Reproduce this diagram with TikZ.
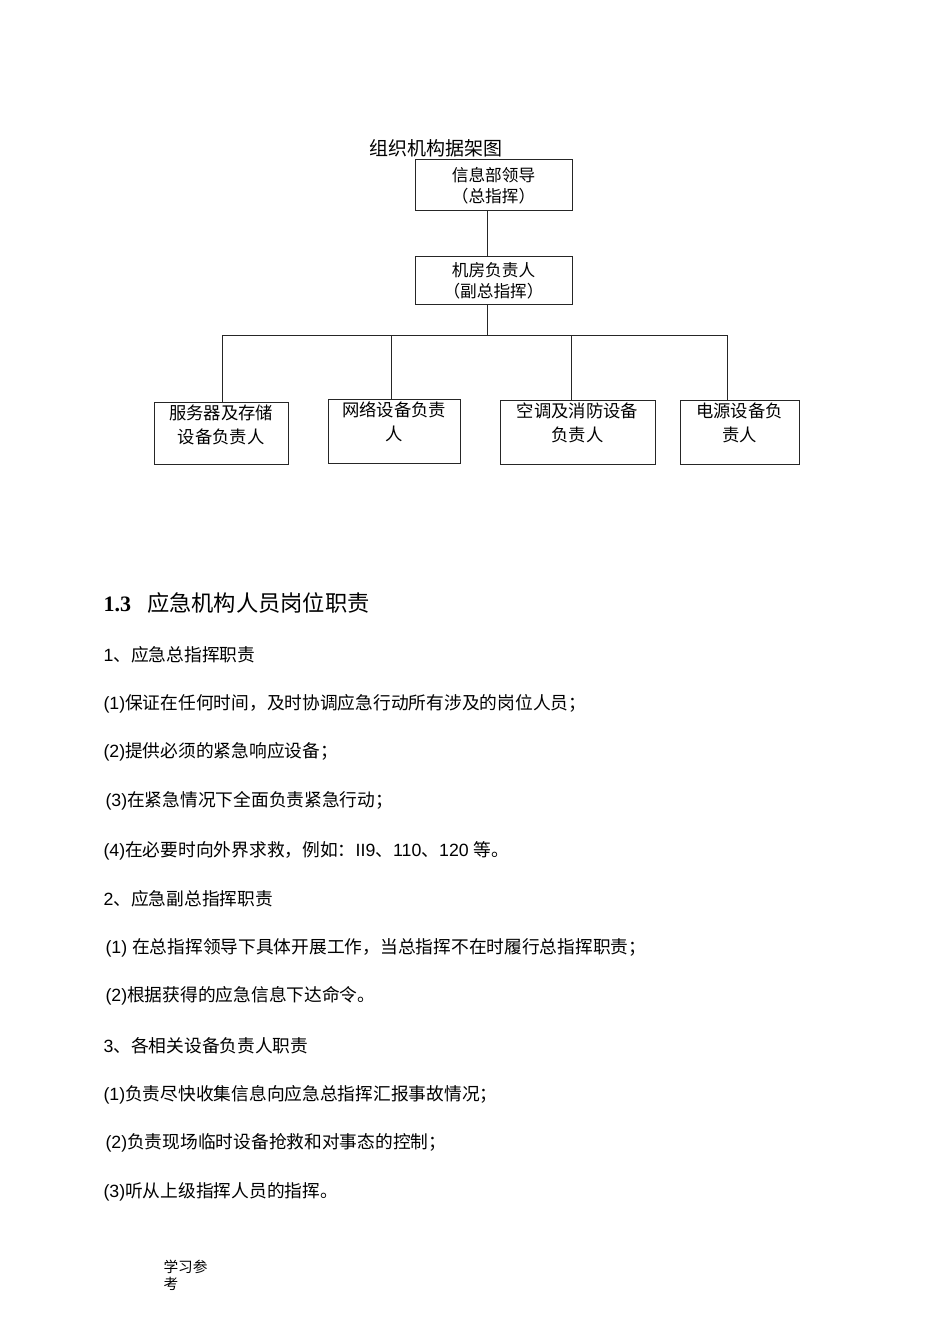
\documentclass[tikz,border=0pt]{standalone}
\usepackage{fontspec}
\setmainfont{Liberation Sans}
\newfontfamily\zh{Noto Sans CJK SC}
\newfontfamily\tnr{Liberation Serif}
\tikzset{every picture/.style={line width=0.75pt}}

\begin{document}
\begin{tikzpicture}[x=0.75pt,y=0.75pt,yscale=-1,xscale=1,
  headbox/.style={draw=black!85, minimum width=117.75pt, inner sep=0pt, align=center, font=\zh\fontsize{12.5}{15.75}\selectfont},
  leafbox/.style={draw=black!85, inner sep=0pt, minimum height=48pt},
  leaftext/.style={anchor=north, inner sep=0pt, align=center, font=\zh\fontsize{13}{18}\selectfont},
  para/.style={anchor=west, inner sep=0pt, font=\fontsize{13.3}{15}\selectfont}]
\useasboundingbox (0,0) rectangle (950,1344);

% Title
\node (title) [inner sep=0pt, font=\zh\fontsize{14.25}{16}\selectfont] at (436,148) {组织机构据架图};

%Boxes
\node (lead) [headbox, minimum height=38.25pt] at (493.5,185.5) {信息部领导\\（总指挥）};
\node (vice) [headbox, minimum height=36pt] at (493.5,281) {机房负责人\\（副总指挥）};
\node (srv) [leafbox, minimum width=100.5pt, minimum height=46.5pt] at (221,433) {};
\node (net) [leafbox, minimum width=99pt] at (394,431) {};
\node (hvac) [leafbox, minimum width=116.25pt] at (577.5,432) {};
\node (pwr) [leafbox, minimum width=89.25pt] at (739.5,432) {};

% Box texts
\node (srvt) [leaftext] at ([yshift=2.25pt]srv.north) {服务器及存储\\设备负责人};
\node (nett) [leaftext] at ([yshift=2.25pt]net.north) {网络设备负责\\人};
\node (hvact) [leaftext] at ([yshift=2.25pt]hvac.north) {空调及消防设备\\负责人};
\node (pwrt) [leaftext] at ([yshift=2.25pt]pwr.north) {电源设备负\\责人};

%Straight Lines
\coordinate (spine) at (487,335);
\coordinate (jA) at (222,335);
\coordinate (jB) at (391,335);
\coordinate (jC) at (571,335);
\coordinate (jD) at (727,335);
\draw [draw=black!85] (lead.south -| spine) -- (vice.north -| spine);
\draw [draw=black!85] (vice.south -| spine) -- (spine);
\draw [draw=black!85] (jA) -- (jD);
\draw [draw=black!85] (jA) -- (jA |- srv.north);
\draw [draw=black!85] (jB) -- (jB |- net.north);
\draw [draw=black!85] (jC) -- (jC |- hvac.north);
\draw [draw=black!85] (jD) -- (jD |- pwr.north);

% Text Node
\node (sec) [anchor=west, inner sep=0pt] at (103,603) {{\tnr\bfseries\fontsize{16.5}{18}\selectfont 1.3}\hspace{12pt}{\zh\fontsize{16.7}{18}\selectfont 应急机构人员岗位职责}};
% Text Node
\node (a0) [para] at (103,655) {1{\zh 、应急总指挥职责}};
\node (a1) [para] at (103,704) {(1){\zh 保证在任何时间，及时协调应急行动所有涉及的岗位人员；}};
\node (a2) [para] at (103,752) {(2){\zh 提供必须的紧急响应设备；}};
\node (a3) [para] at (105,801) {(3){\zh 在紧急情况下全面负责紧急行动；}};
\node (a4) [para] at (103,851) {(4){\zh 在必要时向外界求救，例如：}II9{\zh 、}110{\zh 、}120 {\zh 等。}};
% Text Node
\node (b0) [para] at (103,899) {2{\zh 、应急副总指挥职责}};
\node (b1) [para] at (105,948) {(1) {\zh 在总指挥领导下具体开展工作，当总指挥不在时履行总指挥职责；}};
\node (b2) [para] at (105,996) {(2){\zh 根据获得的应急信息下达命令。}};
% Text Node
\node (c0) [para] at (103,1046) {3{\zh 、各相关设备负责人职责}};
\node (c1) [para] at (103,1095) {(1){\zh 负责尽快收集信息向应急总指挥汇报事故情况；}};
\node (c2) [para] at (105,1143) {(2){\zh 负责现场临时设备抢救和对事态的控制；}};
\node (c3) [para] at (103,1192) {(3){\zh 听从上级指挥人员的指挥。}};

% Footer
\node (foot) [anchor=north west, inner sep=0pt, align=left, font=\zh\fontsize{11}{12.75}\selectfont] at (163,1260) {学习参\\考};

\end{tikzpicture}
\end{document}
